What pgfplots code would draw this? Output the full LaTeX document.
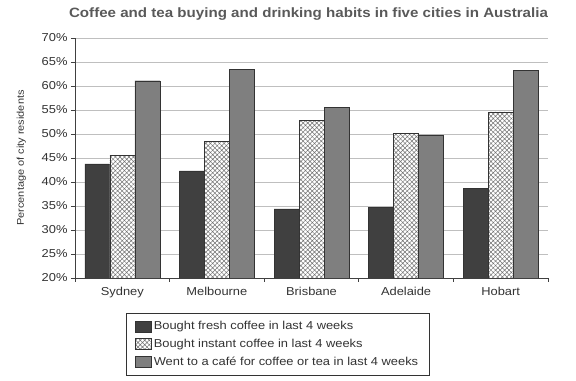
\documentclass[border=0pt]{standalone}
\usepackage{fontspec}
\setmainfont{Liberation Sans}[FakeStretch=1.12]
\usepackage{pgfplots}
\pgfplotsset{compat=1.18}
\usetikzlibrary{patterns.meta}
\definecolor{fresh}{HTML}{404040}
\definecolor{cafe}{HTML}{7F7F7F}
\definecolor{txt}{HTML}{333333}
\begin{document}
\begin{tikzpicture}
\begin{axis}[name=ax,
  scale only axis, width=473pt, height=240pt,
  xmin=-0.5, xmax=4.5, ymin=20, ymax=70,
  ytick={20,25,...,70},
  yticklabel={\pgfmathprintnumber{\tick}\%},
  /pgf/number format/assume math mode=true,
  ybar=0pt, bar width=25pt,
  xtick={0,1,2,3,4},
  xticklabels={Sydney,Melbourne,Brisbane,Adelaide,Hobart},
  minor xtick={-0.5,0.5,...,4.5},
  major x tick style={draw=none},
  minor tick length=4pt, major tick length=4pt,
  tick align=outside,
  axis x line*=bottom, axis y line*=left,
  axis line style={draw=black!75, line width=0.7pt},
  tick style={draw=black!75, line width=0.7pt},
  ymajorgrids, grid style={draw=black!25, line width=0.6pt},
  tick label style={font=\fontsize{11.5}{13}\selectfont, text=txt},
  xticklabel style={yshift=-2pt},
  ylabel={Percentage of city residents},
  ylabel style={font=\fontsize{9.8}{11}\selectfont, text=txt, yshift=9pt},
  legend style={at={(0.108,-0.146)}, anchor=north west, draw=black!80, line width=0.6pt,
    font=\fontsize{11.5}{13}\selectfont, text=txt, row sep=4pt, inner xsep=9pt, inner ysep=6pt},
  legend cell align=left,
  legend image code/.code={\draw[#1] (0pt,-5.5pt) rectangle (16pt,5.5pt);},
]
\addplot[draw=black!80, line width=0.4pt, fill=fresh] coordinates {(0,43.8) (1,42.3) (2,34.4) (3,34.7) (4,38.7)};
\addplot[draw=black!80, line width=0.4pt, fill=white, postaction={pattern={Hatch[angle=45,distance=3.2pt,line width=0.5pt]}, pattern color=black!55}] coordinates {(0,45.6) (1,48.4) (2,52.9) (3,50.1) (4,54.6)};
\addplot[draw=black!80, line width=0.4pt, fill=cafe] coordinates {(0,61.1) (1,63.5) (2,55.6) (3,49.8) (4,63.3)};
\legend{Bought fresh coffee in last 4 weeks, Bought instant coffee in last 4 weeks, Went to a café for coffee or tea in last 4 weeks}
\end{axis}
\node[font=\bfseries\fontsize{13.5}{15}\selectfont, text=black!65] at ([xshift=-3pt,yshift=24pt]ax.north) {Coffee and tea buying and drinking habits in five cities in Australia};
\pgfresetboundingbox
\path ([xshift=-75pt,yshift=-103pt]ax.south west) rectangle ([xshift=28pt,yshift=38pt]ax.north east);
\end{tikzpicture}
\end{document}
